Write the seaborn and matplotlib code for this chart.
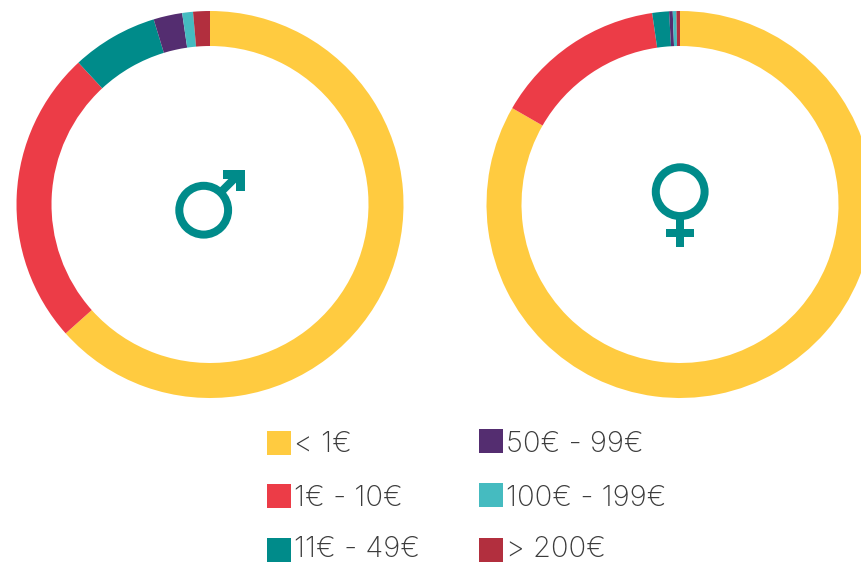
import matplotlib
matplotlib.use('Agg')
import matplotlib.pyplot as plt
from matplotlib.patches import Circle, Polygon, Rectangle
import seaborn as sns

labels = ['< 1€', '1€ - 10€', '11€ - 49€', '50€ - 99€', '100€ - 199€', '> 200€']
male_share = [63.4, 24.7, 7.2, 2.4, 0.9, 1.4]
female_share = [83.3, 14.4, 1.4, 0.3, 0.3, 0.3]
colors = ['#FFCB40', '#EC3C47', '#008B8A', '#542D70', '#45BBC0', '#B22F3E']

sns.set_theme(style='white')
plt.rcParams['font.family'] = ['Inter', 'DejaVu Sans']
palette = sns.color_palette(colors)

W, H = 861, 564
fig = plt.figure(figsize=(W / 100, H / 100), dpi=100)

# full figure axes in pixels for the symbols and the legend
overlay = fig.add_axes([0, 0, 1, 1], zorder=2)
overlay.set_xlim(0, W)
overlay.set_ylim(H, 0)
overlay.axis('off')


def donut(values, cx, cy, r):
    ax = fig.add_axes([(cx - r) / W, 1 - (cy + r) / H, 2 * r / W, 2 * r / H])
    ax.pie(values, colors=palette, startangle=90, counterclock=False, radius=1,
           wedgeprops={'width': 35 / r, 'linewidth': 0})
    ax.set_xlim(-1, 1)
    ax.set_ylim(-1, 1)


donut(male_share, 210, 204.5, 193.5)
donut(female_share, 680, 204.5, 193.5)

# male symbol
teal = colors[2]
overlay.add_patch(Circle((203.7, 210.2), 24.4, facecolor='none', edgecolor=teal, linewidth=5.76))
overlay.plot([220, 238], [193, 175], color=teal, linewidth=5.76, solid_capstyle='butt')
overlay.add_patch(Polygon([(223, 170), (244.5, 170), (244.5, 191), (236, 191), (236, 178.5), (223, 178.5)],
                          facecolor=teal, linewidth=0))

# female symbol
overlay.add_patch(Circle((680.2, 191.7), 24.4, facecolor='none', edgecolor=teal, linewidth=5.76))
overlay.add_patch(Rectangle((675.8, 218), 8.6, 28.7, facecolor=teal, linewidth=0))
overlay.add_patch(Rectangle((666, 229), 28.4, 8.3, facecolor=teal, linewidth=0))

# legend, filled column by column
rows_left = [431, 484, 538]
rows_right = [429, 483, 538]
base_left = [452, 506.5, 557]
base_right = [452, 506, 557]
for i, label in enumerate(labels):
    x = 267 if i < 3 else 479
    y = rows_left[i] if i < 3 else rows_right[i - 3]
    base = base_left[i] if i < 3 else base_right[i - 3]
    overlay.add_patch(Rectangle((x, y), 24, 24, facecolor=colors[i], linewidth=0))
    overlay.text(x + 27, base, label, fontsize=21, fontweight='light', color='#3c3c3c',
                 ha='left', va='baseline')

fig.savefig('out.png', dpi=100, facecolor='white')
